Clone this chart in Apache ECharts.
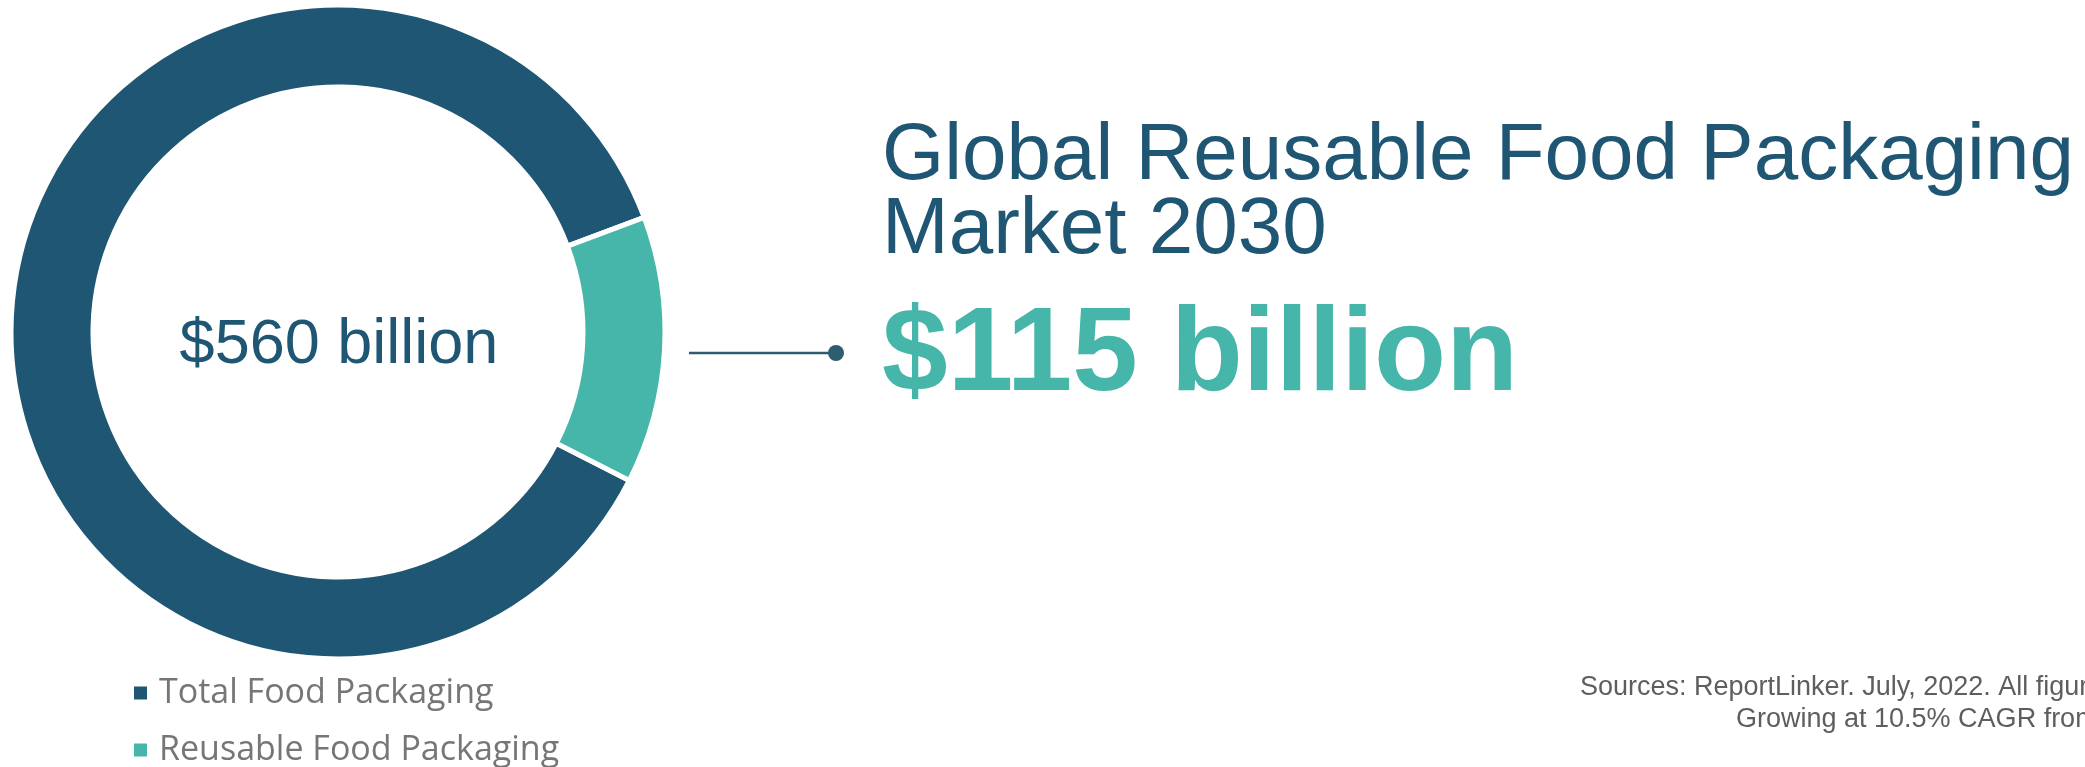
<!DOCTYPE html>
<html>
<head>
<meta charset="utf-8">
<script src="https://cdn.jsdelivr.net/npm/echarts@6/dist/echarts.min.js"></script>
<style>
html,body{margin:0;padding:0;background:#fff;}
#chart{width:2085px;height:767px;}
</style>
</head>
<body>
<div id="chart"></div>
<script>
// ---- data ----
const categories = ['Total Food Packaging', 'Reusable Food Packaging'];
const shares = [86.8, 13.2];            // slice shares read from the ring
const sliceColors = ['#1F5673', '#46B5AA'];
const centerLabel = '$560 billion';
const titleLines = ['Global Reusable Food Packaging', 'Market 2030'];
const headline = '$115 billion';
const sourceLines = ['Sources: ReportLinker. July, 2022. All figures', 'Growing at 10.5% CAGR from'];

const chart = echarts.init(document.getElementById('chart'), null, {renderer: 'canvas'});

const pieData = categories.map((c, i) => ({
  name: c,
  value: shares[i],
  itemStyle: {color: sliceColors[i]}
}));

const legendTops = [676, 733];
const legends = categories.map((c, i) => ({
  data: [c],
  orient: 'vertical',
  left: 132,
  top: legendTops[i],
  padding: 0,
  icon: 'rect',
  itemWidth: 15,
  itemHeight: 15,
  selectedMode: false,
  textStyle: {
    fontFamily: 'Open Sans',
    fontSize: 34,
    lineHeight: 34,
    color: '#767676',
    padding: [0, 0, 0, 6]
  }
}));

const option = {
  animation: false,
  backgroundColor: '#ffffff',
  legend: legends,
  series: [{
    type: 'pie',
    center: [338, 332],
    radius: [245, 327],
    startAngle: -27,
    clockwise: true,
    silent: true,
    label: {show: false},
    labelLine: {show: false},
    itemStyle: {borderColor: '#ffffff', borderWidth: 5},
    data: pieData
  }],
  graphic: [
    {type: 'text', x: 339, y: 346,
     style: {text: centerLabel, fill: '#1F5673', font: '63px "Liberation Sans", Arial, sans-serif',
             textAlign: 'center', textVerticalAlign: 'middle'}},
    {type: 'text', x: 882, y: 157,
     style: {text: titleLines[0], fill: '#1F5673', font: '80px "Liberation Sans", Arial, sans-serif',
             textAlign: 'left', textVerticalAlign: 'middle'}},
    {type: 'text', x: 882, y: 231,
     style: {text: titleLines[1], fill: '#1F5673', font: '80px "Liberation Sans", Arial, sans-serif',
             textAlign: 'left', textVerticalAlign: 'middle'}},
    {type: 'text', x: 882, y: 357,
     style: {text: headline, fill: '#46B5AA', font: 'bold 118px "Liberation Sans", Arial, sans-serif',
             textAlign: 'left', textVerticalAlign: 'middle'}},
    {type: 'line', shape: {x1: 689, y1: 353, x2: 836, y2: 353},
     style: {stroke: '#2D5E6F', lineWidth: 2.5}},
    {type: 'circle', shape: {cx: 836, cy: 353, r: 8},
     style: {fill: '#2D5E6F'}},
    {type: 'text', x: 1580, y: 688,
     style: {text: sourceLines[0], fill: '#5E5E5E', font: '27px "Liberation Sans", Arial, sans-serif',
             textAlign: 'left', textVerticalAlign: 'middle'}},
    {type: 'text', x: 1736, y: 720,
     style: {text: sourceLines[1], fill: '#5E5E5E', font: '27px "Liberation Sans", Arial, sans-serif',
             textAlign: 'left', textVerticalAlign: 'middle'}}
  ]
};
chart.setOption(option);
</script>
</body>
</html>
